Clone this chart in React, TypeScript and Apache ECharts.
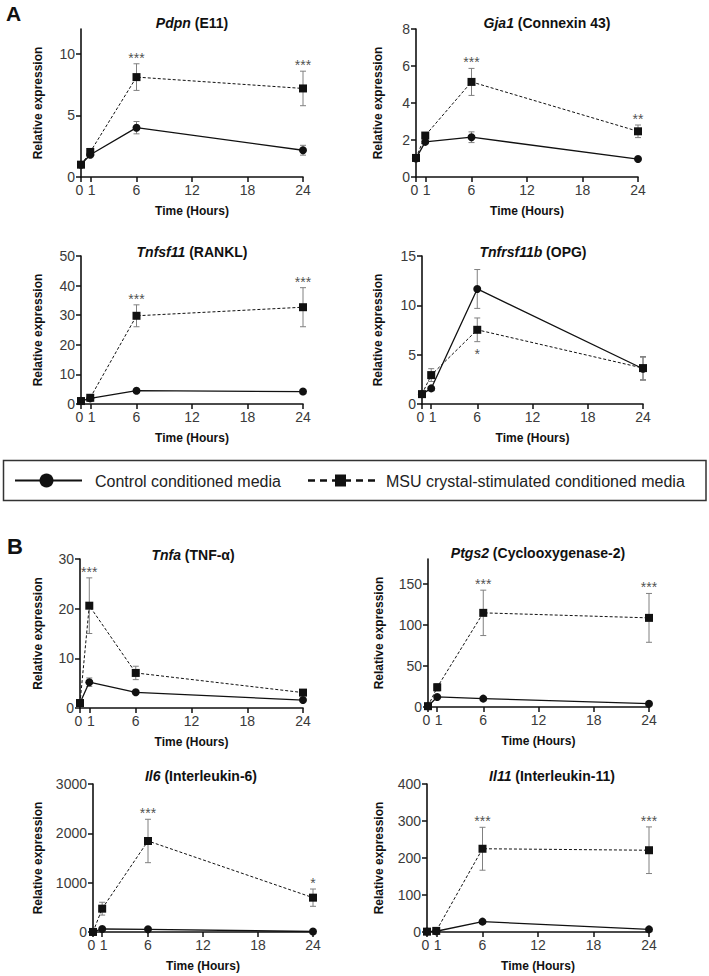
import React, { useEffect, useRef } from 'react';
import * as echarts from 'echarts';

const FONT = "'Liberation Sans', Arial, Helvetica, sans-serif";

// time points (hours) and x-axis tick labels
const hours = [0, 1, 6, 24];
const xTicks = [0, 1, 6, 12, 18, 24];

// Panel A
const pdpnCtrl = [1, 1.8, 4.0, 2.17];
const pdpnCtrlErr = [0.05, 0.1, 0.5, 0.4];
const pdpnMsu = [1, 2.03, 8.1, 7.18];
const pdpnMsuErr = [0.05, 0.15, 1.08, 1.4];
const pdpnTicks = [0, 5, 10];

const gja1Ctrl = [1, 1.9, 2.15, 0.97];
const gja1CtrlErr = [0.05, 0.1, 0.29, 0.05];
const gja1Msu = [1.03, 2.24, 5.14, 2.47];
const gja1MsuErr = [0.05, 0.15, 0.73, 0.34];
const gja1Ticks = [0, 2, 4, 6, 8];

const tnfsf11Ctrl = [1, 1.9, 4.5, 4.2];
const tnfsf11CtrlErr = [0.1, 0.2, 0.4, 0.4];
const tnfsf11Msu = [1, 2.1, 29.8, 32.7];
const tnfsf11MsuErr = [0.1, 0.3, 3.7, 6.6];
const tnfsf11Ticks = [0, 10, 20, 30, 40, 50];

const tnfrsf11bCtrl = [1, 1.58, 11.66, 3.57];
const tnfrsf11bCtrlErr = [0.05, 0.1, 1.97, 1.17];
const tnfrsf11bMsu = [1, 2.93, 7.52, 3.64];
const tnfrsf11bMsuErr = [0.05, 0.65, 1.2, 1.17];
const tnfrsf11bTicks = [0, 5, 10, 15];

// Panel B
const tnfaCtrl = [1, 5.2, 3.16, 1.6];
const tnfaCtrlErr = [0.05, 0.85, 0.45, 0.15];
const tnfaMsu = [1, 20.6, 7.06, 3.1];
const tnfaMsuErr = [0.05, 5.6, 1.35, 0.45];
const tnfaTicks = [0, 10, 20, 30];

const ptgs2Ctrl = [1, 12.2, 10.2, 4];
const ptgs2CtrlErr = [0.1, 1, 1, 0.8];
const ptgs2Msu = [1, 24, 114.5, 108.4];
const ptgs2MsuErr = [0.1, 4.5, 27.6, 29.7];
const ptgs2Ticks = [0, 50, 100, 150];

const il6Ctrl = [1, 61, 54, 10];
const il6CtrlErr = [1, 8, 8, 3];
const il6Msu = [1, 473, 1845, 696];
const il6MsuErr = [1, 130, 440, 175];
const il6Ticks = [0, 1000, 2000, 3000];

const il11Ctrl = [1, 2, 28, 7];
const il11CtrlErr = [0.2, 0.5, 3, 1];
const il11Msu = [1, 3, 225, 221];
const il11MsuErr = [0.2, 0.5, 58, 63];
const il11Ticks = [0, 100, 200, 300, 400];

// significance marks: [hour, text]
const pdpnStars: [number, string][] = [[6, '***'], [24, '***']];
const gja1Stars: [number, string][] = [[6, '***'], [24, '**']];
const tnfsf11Stars: [number, string][] = [[6, '***'], [24, '***']];
const tnfrsf11bStars: [number, string][] = [[6, '*']];
const tnfaStars: [number, string][] = [[1, '***']];
const ptgs2Stars: [number, string][] = [[6, '***'], [24, '***']];
const il6Stars: [number, string][] = [[6, '***'], [24, '*']];
const il11Stars: [number, string][] = [[6, '***'], [24, '***']];

type Panel = {
  gene: string;
  protein: string;
  ctrl: number[];
  ctrlErr: number[];
  msu: number[];
  msuErr: number[];
  yMax: number;
  yTicks: number[];
  stars: [number, string][];
  starsBelow?: boolean;
  grid: { left: number; top: number; width: number; height: number };
  yNameGap: number;
  titleX: number;
  titleY: number;
};

const panels: Panel[] = [
  { gene: 'Pdpn', protein: ' (E11)', ctrl: pdpnCtrl, ctrlErr: pdpnCtrlErr, msu: pdpnMsu, msuErr: pdpnMsuErr, yMax: 12, yTicks: pdpnTicks, stars: pdpnStars, grid: { left: 81, top: 29, width: 222, height: 148 }, yNameGap: 37, titleX: 192, titleY: 23 },
  { gene: 'Gja1', protein: ' (Connexin 43)', ctrl: gja1Ctrl, ctrlErr: gja1CtrlErr, msu: gja1Msu, msuErr: gja1MsuErr, yMax: 8, yTicks: gja1Ticks, stars: gja1Stars, grid: { left: 416, top: 29, width: 222, height: 148 }, yNameGap: 32, titleX: 547, titleY: 23 },
  { gene: 'Tnfsf11', protein: ' (RANKL)', ctrl: tnfsf11Ctrl, ctrlErr: tnfsf11CtrlErr, msu: tnfsf11Msu, msuErr: tnfsf11MsuErr, yMax: 50, yTicks: tnfsf11Ticks, stars: tnfsf11Stars, grid: { left: 81, top: 256, width: 222, height: 148 }, yNameGap: 37, titleX: 192, titleY: 252 },
  { gene: 'Tnfrsf11b', protein: ' (OPG)', ctrl: tnfrsf11bCtrl, ctrlErr: tnfrsf11bCtrlErr, msu: tnfrsf11bMsu, msuErr: tnfrsf11bMsuErr, yMax: 15, yTicks: tnfrsf11bTicks, stars: tnfrsf11bStars, starsBelow: true, grid: { left: 422, top: 256, width: 221, height: 148 }, yNameGap: 38, titleX: 533, titleY: 252 },
  { gene: 'Tnfa', protein: ' (TNF-α)', ctrl: tnfaCtrl, ctrlErr: tnfaCtrlErr, msu: tnfaMsu, msuErr: tnfaMsuErr, yMax: 30, yTicks: tnfaTicks, stars: tnfaStars, grid: { left: 80, top: 559, width: 223, height: 149 }, yNameGap: 36, titleX: 193, titleY: 555 },
  { gene: 'Ptgs2', protein: ' (Cyclooxygenase-2)', ctrl: ptgs2Ctrl, ctrlErr: ptgs2CtrlErr, msu: ptgs2Msu, msuErr: ptgs2MsuErr, yMax: 180, yTicks: ptgs2Ticks, stars: ptgs2Stars, grid: { left: 428, top: 559, width: 221, height: 148 }, yNameGap: 43, titleX: 538, titleY: 553 },
  { gene: 'Il6', protein: ' (Interleukin-6)', ctrl: il6Ctrl, ctrlErr: il6CtrlErr, msu: il6Msu, msuErr: il6MsuErr, yMax: 3000, yTicks: il6Ticks, stars: il6Stars, grid: { left: 93, top: 784, width: 220, height: 148 }, yNameGap: 49, titleX: 201, titleY: 776 },
  { gene: 'Il11', protein: ' (Interleukin-11)', ctrl: il11Ctrl, ctrlErr: il11CtrlErr, msu: il11Msu, msuErr: il11MsuErr, yMax: 400, yTicks: il11Ticks, stars: il11Stars, grid: { left: 427, top: 784, width: 222, height: 148 }, yNameGap: 42, titleX: 552, titleY: 776 },
];

function buildOption() {
  const grid = panels.map((p) => ({ ...p.grid, containLabel: false }));
  const axisColor = '#111';
  const baseLabel = {
    margin: 6,
    fontSize: 14,
    color: '#3a3a3a',
    fontFamily: FONT,
  };
  const xAxis = panels.map((p, i) => ({
    gridIndex: i,
    type: 'value',
    min: 0,
    max: 24,
    name: 'Time (Hours)',
    nameLocation: 'middle',
    nameGap: 28,
    nameTextStyle: { fontFamily: FONT, fontWeight: 'bold', fontSize: 12, color: '#111' },
    axisLine: { onZero: false, lineStyle: { color: axisColor, width: 1.6 } },
    axisTick: { customValues: xTicks, length: 5, lineStyle: { color: axisColor, width: 1.5 } },
    axisLabel: {
      ...baseLabel,
      customValues: xTicks,
      formatter: (v: number) => (v === 0 ? '{z|0}' : v === 1 ? '{o|1}' : String(v)),
      rich: {
        z: { fontSize: 14, color: '#3a3a3a', fontFamily: FONT, padding: [0, 3, 0, 0] },
        o: { fontSize: 14, color: '#3a3a3a', fontFamily: FONT, padding: [0, 0, 0, 3] },
      },
    },
    splitLine: { show: false },
  }));
  const yAxis = panels.map((p, i) => ({
    gridIndex: i,
    type: 'value',
    min: 0,
    max: p.yMax,
    name: 'Relative expression',
    nameLocation: 'middle',
    nameGap: p.yNameGap,
    nameTextStyle: { fontFamily: FONT, fontWeight: 'bold', fontSize: 12, color: '#111' },
    axisLine: { show: true, onZero: false, lineStyle: { color: axisColor, width: 1.6 } },
    axisTick: { show: true, customValues: p.yTicks, length: 5, lineStyle: { color: axisColor, width: 1.5 } },
    axisLabel: { ...baseLabel, customValues: p.yTicks, formatter: (v: number) => String(v) },
    splitLine: { show: false },
  }));

  const series: any[] = [];
  panels.forEach((p, i) => {
    const errData: number[][] = [];
    hours.forEach((h, j) => {
      errData.push([h, p.ctrl[j] - p.ctrlErr[j], p.ctrl[j] + p.ctrlErr[j]]);
      errData.push([h, p.msu[j] - p.msuErr[j], p.msu[j] + p.msuErr[j]]);
    });
    series.push({
      type: 'custom',
      xAxisIndex: i,
      yAxisIndex: i,
      z: 1,
      silent: true,
      data: errData,
      encode: { x: 0, y: [1, 2] },
      renderItem: (params: any, api: any) => {
        const x = api.value(0);
        const lo = api.coord([x, api.value(1)]);
        const hi = api.coord([x, api.value(2)]);
        const cap = 3;
        const style = { stroke: '#808080', lineWidth: 1 };
        return {
          type: 'group',
          children: [
            { type: 'line', shape: { x1: lo[0], y1: lo[1], x2: hi[0], y2: hi[1] }, style },
            { type: 'line', shape: { x1: lo[0] - cap, y1: lo[1], x2: lo[0] + cap, y2: lo[1] }, style },
            { type: 'line', shape: { x1: hi[0] - cap, y1: hi[1], x2: hi[0] + cap, y2: hi[1] }, style },
          ],
        };
      },
    });
    series.push({
      type: 'line',
      name: 'Control conditioned media',
      xAxisIndex: i,
      yAxisIndex: i,
      z: 3,
      data: hours.map((h, j) => [h, p.ctrl[j]]),
      symbol: 'circle',
      symbolSize: 8,
      lineStyle: { color: '#111', width: 1.3 },
      itemStyle: { color: '#111' },
    });
    series.push({
      type: 'line',
      name: 'MSU crystal-stimulated conditioned media',
      xAxisIndex: i,
      yAxisIndex: i,
      z: 4,
      data: hours.map((h, j) => [h, p.msu[j]]),
      symbol: 'rect',
      symbolSize: 8,
      lineStyle: { color: '#111', width: 1, type: [3, 2] },
      itemStyle: { color: '#111' },
    });
    series.push({
      type: 'scatter',
      xAxisIndex: i,
      yAxisIndex: i,
      z: 5,
      silent: true,
      symbolSize: 0,
      data: p.stars.map(([h, t]) => {
        const j = hours.indexOf(h);
        const anchor = p.starsBelow ? p.msu[j] - p.msuErr[j] : p.msu[j] + p.msuErr[j];
        return { name: t, value: [h, anchor] };
      }),
      label: {
        show: true,
        formatter: '{b}',
        position: p.starsBelow ? 'bottom' : 'top',
        distance: p.starsBelow ? 5 : -1,
        fontSize: 14,
        color: '#222',
        fontFamily: FONT,
      },
    });
  });

  const titleGraphics = panels.map((p) => ({
    type: 'text',
    x: p.titleX,
    y: p.titleY,
    silent: true,
    style: {
      text: '{i|' + p.gene + '}' + p.protein,
      rich: {
        i: { fontStyle: 'italic', fontWeight: 'bold', fontSize: 14, fontFamily: FONT, fill: '#111' },
      },
      fontSize: 14,
      fontWeight: 'bold',
      fontFamily: FONT,
      fill: '#111',
      align: 'center',
      verticalAlign: 'middle',
    },
  }));

  const legendY = 480.5;
  const graphic: any[] = [
    ...titleGraphics,
    { type: 'text', x: 6, y: 13, silent: true, style: { text: 'A', fontSize: 21, fontWeight: 'bold', fontFamily: FONT, fill: '#111', align: 'left', verticalAlign: 'middle' } },
    { type: 'text', x: 7, y: 546, silent: true, style: { text: 'B', fontSize: 22, fontWeight: 'bold', fontFamily: FONT, fill: '#111', align: 'left', verticalAlign: 'middle' } },
    { type: 'rect', silent: true, shape: { x: 3.5, y: 460.5, width: 702.5, height: 40 }, style: { fill: 'none', stroke: '#333', lineWidth: 1.5 } },
    { type: 'line', silent: true, shape: { x1: 15, y1: legendY, x2: 82, y2: legendY }, style: { stroke: '#111', lineWidth: 2 } },
    { type: 'circle', silent: true, shape: { cx: 46.5, cy: legendY, r: 7 }, style: { fill: '#111' } },
    { type: 'text', x: 95, y: legendY + 1, silent: true, style: { text: 'Control conditioned media', fontSize: 16, fontFamily: FONT, fill: '#222', align: 'left', verticalAlign: 'middle' } },
    { type: 'line', silent: true, shape: { x1: 308, y1: legendY, x2: 378, y2: legendY }, style: { stroke: '#111', lineWidth: 2.5, lineDash: [7, 5] } },
    { type: 'rect', silent: true, shape: { x: 335, y: legendY - 6, width: 11, height: 12 }, style: { fill: '#111' } },
    { type: 'text', x: 386, y: legendY + 1, silent: true, style: { text: 'MSU crystal-stimulated conditioned media', fontSize: 16, fontFamily: FONT, fill: '#222', align: 'left', verticalAlign: 'middle' } },
  ];

  return {
    animation: false,
    backgroundColor: '#ffffff',
    textStyle: { fontFamily: FONT },
    grid,
    xAxis,
    yAxis,
    series,
    graphic,
  };
}

export default function App() {
  const ref = useRef<HTMLDivElement>(null);
  useEffect(() => {
    if (!ref.current) return;
    const chart = echarts.init(ref.current, undefined, { renderer: 'svg' });
    chart.setOption(buildOption() as any);
    return () => chart.dispose();
  }, []);
  return (
    <div
      ref={ref}
      style={{ position: 'absolute', left: 0, top: 0, width: 709, height: 976, background: '#fff' }}
    />
  );
}
